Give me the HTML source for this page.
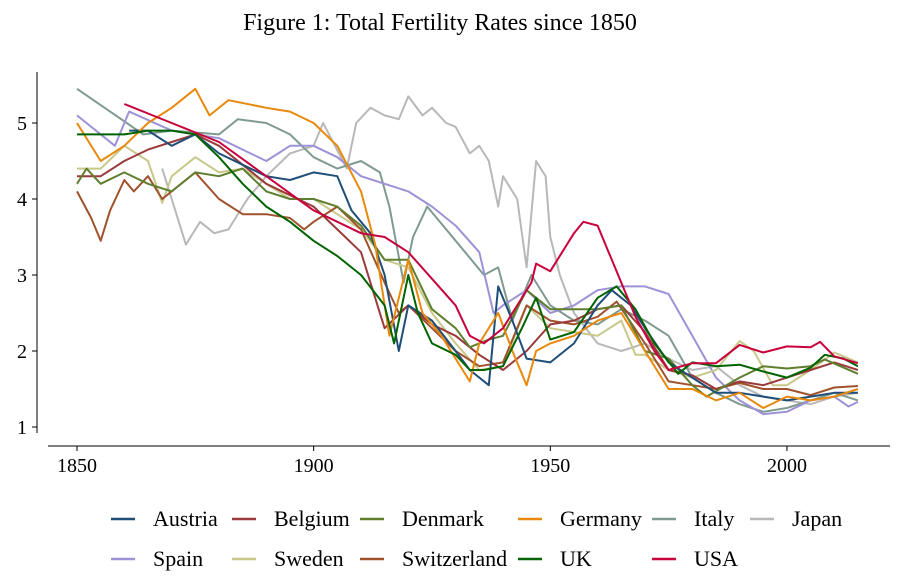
<!DOCTYPE html>
<html><head><meta charset="utf-8"><style>
body{margin:0;background:#fff;}
svg{display:block;font-family:"Liberation Serif",serif;}
</style></head><body>
<svg id="chart" width="907" height="587" viewBox="0 0 907 587">
<text x="440" y="30" text-anchor="middle" font-size="24">Figure 1: Total Fertility Rates since 1850</text>
<g id="axes"></g><g id="lines"></g><g id="legend"></g>
</svg>
<script>
const xTicks=[1850,1900,1950,2000];
const yTicks=[1,2,3,4,5];
const seriesNames=["Austria","Belgium","Denmark","Germany","Italy","Japan","Spain","Sweden","Switzerland","UK","USA"];
const austriaYears=[1861,1865,1870,1875,1880,1885,1890,1895,1900,1905,1908,1912,1915,1918,1920,1925,1930,1933,1937,1939,1942,1945,1950,1955,1960,1963,1967,1970,1975,1980,1985,1990,1995,2000,2005,2010,2015];
const austriaValues=[4.9,4.9,4.7,4.85,4.6,4.45,4.3,4.25,4.35,4.3,3.85,3.55,3.0,2.0,2.6,2.4,2.0,1.75,1.55,2.85,2.4,1.9,1.85,2.1,2.6,2.8,2.6,2.3,1.85,1.65,1.45,1.45,1.4,1.35,1.4,1.45,1.45];
const belgiumYears=[1850,1855,1860,1865,1870,1875,1880,1885,1890,1895,1900,1905,1910,1915,1920,1925,1930,1935,1940,1945,1950,1955,1960,1965,1970,1975,1980,1985,1990,1995,2000,2005,2010,2015];
const belgiumValues=[4.3,4.3,4.5,4.65,4.75,4.85,4.7,4.45,4.2,4.05,3.9,3.6,3.3,2.3,2.6,2.35,2.2,1.95,1.75,2.0,2.35,2.4,2.55,2.6,2.25,1.75,1.68,1.5,1.6,1.55,1.65,1.75,1.85,1.75];
const denmarkYears=[1850,1852,1855,1860,1865,1870,1875,1880,1885,1890,1895,1900,1905,1910,1915,1920,1925,1930,1933,1937,1940,1945,1950,1955,1960,1965,1970,1975,1980,1983,1990,1995,2000,2005,2008,2015];
const denmarkValues=[4.2,4.4,4.2,4.35,4.2,4.1,4.35,4.3,4.4,4.1,4.0,4.0,3.9,3.65,3.2,3.2,2.55,2.3,2.05,2.15,2.2,2.8,2.55,2.55,2.55,2.6,2.0,1.9,1.55,1.4,1.65,1.8,1.77,1.8,1.89,1.7];
const germanyYears=[1850,1855,1860,1865,1870,1875,1878,1882,1890,1895,1900,1905,1910,1913,1916,1920,1923,1927,1930,1933,1935,1939,1942,1945,1947,1950,1955,1960,1965,1970,1975,1980,1985,1990,1995,2000,2005,2010,2015];
const germanyValues=[5.0,4.5,4.7,5.0,5.2,5.45,5.1,5.3,5.2,5.15,5.0,4.7,4.1,3.4,2.2,3.2,2.5,2.2,1.9,1.6,2.1,2.5,2.0,1.55,2.0,2.1,2.2,2.4,2.5,2.0,1.5,1.5,1.35,1.45,1.25,1.4,1.35,1.4,1.5];
const italyYears=[1850,1857,1864,1870,1880,1884,1890,1895,1900,1905,1910,1914,1916,1919,1921,1924,1928,1932,1936,1939,1942,1946,1950,1955,1960,1965,1970,1975,1980,1985,1990,1995,2000,2005,2010,2015];
const italyValues=[5.45,5.15,4.85,4.9,4.85,5.05,5.0,4.85,4.55,4.4,4.5,4.35,3.9,2.9,3.5,3.9,3.6,3.3,3.0,3.1,2.4,3.0,2.6,2.4,2.35,2.55,2.4,2.2,1.65,1.45,1.3,1.2,1.25,1.35,1.45,1.35];
const japanYears=[1868,1873,1876,1879,1882,1886,1890,1895,1900,1902,1907,1909,1912,1915,1918,1920,1923,1925,1928,1930,1933,1935,1937,1939,1940,1943,1945,1947,1949,1950,1952,1955,1960,1965,1970,1975,1980,1985,1990,1995,2000,2005,2010,2015];
const japanValues=[4.4,3.4,3.7,3.55,3.6,4.0,4.3,4.6,4.7,5.0,4.4,5.0,5.2,5.1,5.05,5.35,5.1,5.2,5.0,4.95,4.6,4.7,4.5,3.9,4.3,4.0,3.1,4.5,4.3,3.5,3.0,2.5,2.1,2.0,2.1,1.9,1.75,1.8,1.55,1.4,1.35,1.3,1.4,1.45];
const spainYears=[1850,1858,1861,1870,1880,1890,1895,1900,1905,1910,1915,1920,1925,1930,1935,1938,1940,1945,1950,1955,1960,1965,1970,1975,1980,1985,1990,1995,2000,2005,2010,2013,2015];
const spainValues=[5.1,4.7,5.15,4.9,4.8,4.5,4.7,4.7,4.55,4.3,4.2,4.1,3.9,3.65,3.3,2.5,2.6,2.8,2.5,2.6,2.8,2.85,2.85,2.75,2.2,1.65,1.35,1.17,1.2,1.35,1.4,1.27,1.33];
const swedenYears=[1850,1855,1860,1865,1868,1870,1875,1880,1885,1890,1895,1900,1905,1910,1915,1920,1925,1930,1935,1940,1945,1950,1955,1960,1965,1968,1970,1975,1980,1985,1990,1993,1997,2000,2005,2010,2015];
const swedenValues=[4.4,4.4,4.7,4.5,3.95,4.3,4.55,4.35,4.4,4.2,4.0,4.0,3.8,3.6,3.2,3.1,2.5,2.1,1.75,1.8,2.6,2.3,2.25,2.2,2.4,1.95,1.95,1.75,1.65,1.75,2.13,2.0,1.55,1.55,1.75,1.98,1.85];
const switzerlandYears=[1850,1853,1855,1857,1860,1862,1865,1868,1870,1875,1880,1885,1890,1895,1898,1900,1905,1910,1915,1918,1920,1925,1930,1935,1940,1945,1950,1955,1960,1964,1970,1975,1980,1985,1990,1995,2000,2005,2010,2015];
const switzerlandValues=[4.1,3.75,3.45,3.85,4.25,4.1,4.3,4.0,4.1,4.35,4.0,3.8,3.8,3.75,3.6,3.7,3.9,3.6,2.9,2.5,2.6,2.3,2.0,1.8,1.85,2.6,2.4,2.35,2.45,2.65,2.1,1.6,1.55,1.5,1.58,1.5,1.5,1.42,1.52,1.54];
const ukYears=[1850,1855,1860,1865,1870,1875,1880,1885,1890,1895,1900,1905,1910,1915,1917,1920,1922,1925,1930,1933,1936,1940,1944,1947,1950,1955,1960,1964,1968,1972,1977,1980,1985,1990,1995,2000,2005,2008,2012,2015];
const ukValues=[4.85,4.85,4.85,4.9,4.9,4.85,4.55,4.2,3.9,3.7,3.45,3.25,3.0,2.6,2.1,3.0,2.5,2.1,1.95,1.75,1.75,1.8,2.3,2.7,2.15,2.25,2.7,2.85,2.55,2.1,1.7,1.85,1.8,1.82,1.73,1.65,1.78,1.95,1.9,1.8];
const usaYears=[1860,1870,1880,1890,1900,1910,1915,1920,1925,1930,1933,1936,1940,1943,1946,1947,1950,1955,1957,1960,1963,1965,1968,1972,1975,1980,1985,1990,1995,2000,2005,2007,2010,2015];
const usaValues=[5.25,5.0,4.75,4.3,3.85,3.55,3.5,3.3,2.95,2.6,2.2,2.1,2.3,2.6,2.9,3.15,3.05,3.55,3.7,3.65,3.2,2.9,2.45,2.0,1.75,1.84,1.84,2.08,1.98,2.06,2.05,2.12,1.93,1.84];
const allYears=[austriaYears,belgiumYears,denmarkYears,germanyYears,italyYears,japanYears,spainYears,swedenYears,switzerlandYears,ukYears,usaYears];
const allValues=[austriaValues,belgiumValues,denmarkValues,germanyValues,italyValues,japanValues,spainValues,swedenValues,switzerlandValues,ukValues,usaValues];
const colors=["#1f4e79","#9b3a3a","#5f7f2f","#e8890c","#7f9a8f","#b8b8b8","#9d92d8","#c8c88a","#a0522d","#006400","#c8003c"];
const drawOrder=[5,4,6,7,8,1,2,0,3,9,10];
const X=y=>77+(y-1850)*4.733;
const Y=v=>427-(v-1)*76;
const NS="http://www.w3.org/2000/svg";
function mk(tag,attrs,parent){const e=document.createElementNS(NS,tag);for(const k in attrs)e.setAttribute(k,attrs[k]);parent.appendChild(e);return e;}
const axes=document.getElementById('axes');
const yAxis=mk('line',{x1:37,y1:72,x2:37,y2:433,stroke:'#000','stroke-width':1},axes);


const xAxis=mk('line',{x1:48,y1:446,x2:890,y2:446,stroke:'#000','stroke-width':1},axes);


yTicks.forEach(v=>{
  mk('line',{x1:32,y1:Y(v),x2:37,y2:Y(v),stroke:'#000'},axes);
  const t=mk('text',{x:27,y:Y(v)+7,'text-anchor':'end','font-size':20},axes);
  t.textContent=v;
  
  
});
xTicks.forEach(v=>{
  mk('line',{x1:X(v),y1:446,x2:X(v),y2:451,stroke:'#000'},axes);
  const t=mk('text',{x:X(v),y:472,'text-anchor':'middle','font-size':20},axes);
  t.textContent=v;
  
  
});
const lines=document.getElementById('lines');
drawOrder.forEach(i=>{
  const d=allYears[i].map((yr,j)=>(j?'L':'M')+X(yr).toFixed(1)+' '+Y(allValues[i][j]).toFixed(1)).join(' ');
  const p=mk('path',{d:d,fill:'none',stroke:colors[i],'stroke-width':2,'stroke-linejoin':'round'},lines);
  
  
});
const legend=document.getElementById('legend');
const legX=[111,232,360,518,652,750];
seriesNames.forEach((n,i)=>{
  const row=i<6?0:1, col=i<6?i:i-6;
  const ly=row?559:519, lx=legX[col];
  const g=mk('g',{},legend);
  
  
  mk('line',{x1:lx,y1:ly,x2:lx+24,y2:ly,stroke:colors[i],'stroke-width':2.5},g);
  const t=mk('text',{x:lx+42,y:ly+7,'font-size':22},g);
  t.textContent=n;
});
</script>
</body></html>
